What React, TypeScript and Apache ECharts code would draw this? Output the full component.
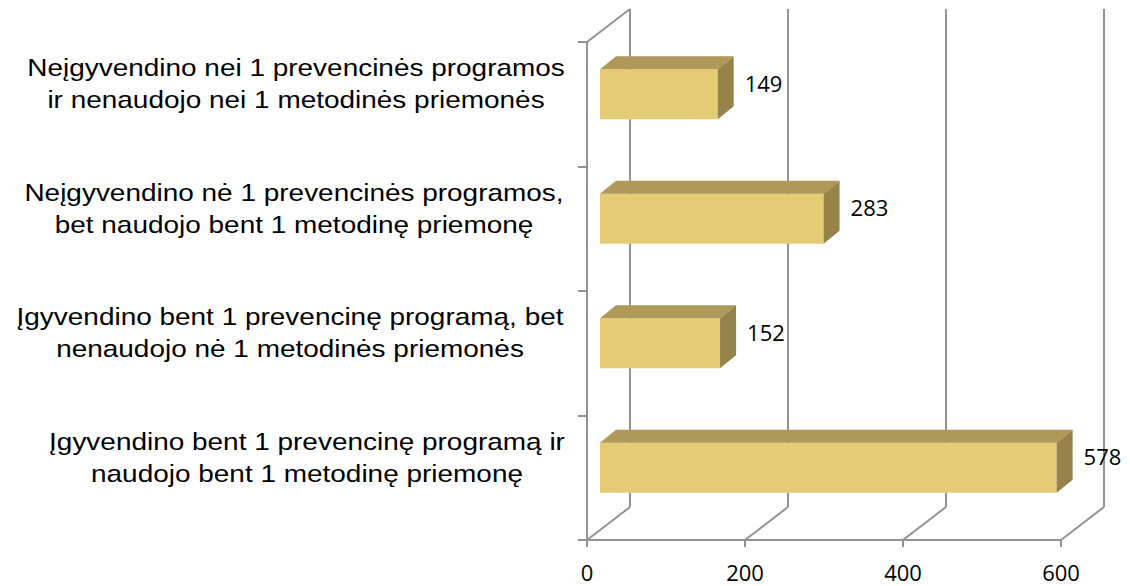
import React, { useEffect, useRef } from "react";
import * as echarts from "echarts";

const categories = [
  "Neįgyvendino nei 1 prevencinės programos\nir nenaudojo nei 1 metodinės priemonės",
  "Neįgyvendino nė 1 prevencinės programos,\nbet naudojo bent 1 metodinę priemonę",
  "Įgyvendino bent 1 prevencinę programą, bet\nnenaudojo nė 1 metodinės priemonės",
  "Įgyvendino bent 1 prevencinę programą ir\nnaudojo bent 1 metodinę priemonę",
];
const values = [149, 283, 152, 578];
const xTicks = [0, 200, 400, 600];

const FRONT = "#E6CB77";
const TOP = "#AE995A";
const SIDE = "#958349";
const LINE = "#939393";
const DX = 43;
const DY = -33;
const labelWidths = [540, 544, 552, 518];
const LABEL_RIGHT = 566;
const LABEL_SCALE_X = 1.165;

export default function App() {
  const ref = useRef<HTMLDivElement>(null);
  useEffect(() => {
    if (!ref.current) return;
    const chart = echarts.init(ref.current, null, { renderer: "svg" });
    chart.setOption({
      animation: false,
      backgroundColor: "#fff",
      grid: { left: 587, right: 69, top: 42, bottom: 46, containLabel: false },
      xAxis: {
        type: "value",
        min: 0,
        max: 600,
        interval: 200,
        axisLine: { show: true, lineStyle: { color: LINE, width: 2 } },
        axisTick: { show: true, length: 7, lineStyle: { color: LINE, width: 2 } },
        splitLine: { show: false },
        axisLabel: {
          margin: 21,
          fontSize: 22,
          fontFamily: "Open Sans, sans-serif",
          color: "#000",
          formatter: (v: number) => (xTicks.includes(v) ? String(v) : ""),
        },
      },
      yAxis: {
        type: "category",
        inverse: true,
        data: categories,
        axisLine: { show: true, lineStyle: { color: LINE, width: 2 } },
        axisTick: { show: true, length: 9, lineStyle: { color: LINE, width: 2 } },
        splitLine: { show: false },
        axisLabel: { show: false },
      },
      series: [
        {
          type: "custom",
          name: "walls",
          clip: false,
          z: 1,
          silent: true,
          encode: { x: 0, y: 1 },
          data: xTicks.map((v) => [v, 0]),
          renderItem: (params: any, api: any) => {
            const v = api.value(0);
            const cs = params.coordSys;
            const x = api.coord([v, 0])[0];
            const top = cs.y;
            const bottom = cs.y + cs.height;
            const ls = { stroke: LINE, lineWidth: 2, fill: "none" };
            const children: any[] = [
              { type: "line", shape: { x1: x + DX, y1: top + DY, x2: x + DX, y2: bottom + DY }, style: ls },
              { type: "line", shape: { x1: x, y1: bottom, x2: x + DX, y2: bottom + DY }, style: ls },
            ];
            if (v === 0) {
              children.push({ type: "line", shape: { x1: x, y1: top, x2: x + DX, y2: top + DY }, style: ls });
            }
            return { type: "group", children };
          },
        },
        {
          type: "custom",
          name: "categoryLabels",
          clip: false,
          z: 3,
          silent: true,
          encode: { x: 0, y: 1 },
          data: categories.map((c, i) => [0, i]),
          renderItem: (params: any, api: any) => {
            const i = api.value(1);
            const p = api.coord([0, i]);
            const w = labelWidths[i];
            return {
              type: "text",
              x: LABEL_RIGHT - w / 2,
              y: p[1] - 20.5,
              scaleX: LABEL_SCALE_X,
              style: {
                text: categories[i],
                x: 0,
                y: 0,
                fill: "#000",
                fontSize: 24,
                lineHeight: 32,
                fontFamily: "Liberation Sans, Arial, sans-serif",
                align: "center",
                verticalAlign: "middle",
              },
            };
          },
        },
        {
          type: "custom",
          name: "bars",
          clip: false,
          z: 2,
          encode: { x: 0, y: 1 },
          data: values.map((v, i) => [v, i]),
          renderItem: (params: any, api: any) => {
            const v = api.value(0);
            const i = api.value(1);
            const start = api.coord([0, i]);
            const end = api.coord([v, i]);
            const band = api.size([0, 1])[1];
            const h = band * 0.4;
            const ox = 13, oy = -10, dx = 16, dy = -13;
            const x0 = start[0] + ox;
            const x1 = end[0] + ox;
            const y0 = end[1] + oy - h / 2;
            const y1 = y0 + h;
            return {
              type: "group",
              children: [
                { type: "rect", shape: { x: x0, y: y0, width: x1 - x0, height: h }, style: { fill: FRONT } },
                {
                  type: "polygon",
                  shape: { points: [[x0, y0], [x1, y0], [x1 + dx, y0 + dy], [x0 + dx, y0 + dy]] },
                  style: { fill: TOP },
                },
                {
                  type: "polygon",
                  shape: { points: [[x1, y0], [x1 + dx, y0 + dy], [x1 + dx, y1 + dy], [x1, y1]] },
                  style: { fill: SIDE },
                },
                {
                  type: "text",
                  style: {
                    text: String(v),
                    x: x1 + dx + 11,
                    y: (y0 + dy + y1) / 2 - 5,
                    fill: "#000",
                    fontSize: 22,
                    fontFamily: "Open Sans, sans-serif",
                    align: "left",
                    verticalAlign: "middle",
                  },
                },
              ],
            };
          },
        },
      ],
    });
    return () => chart.dispose();
  }, []);
  return (
    <div
      ref={ref}
      style={{ position: "fixed", left: 0, top: 0, width: 1130, height: 586 }}
    />
  );
}
